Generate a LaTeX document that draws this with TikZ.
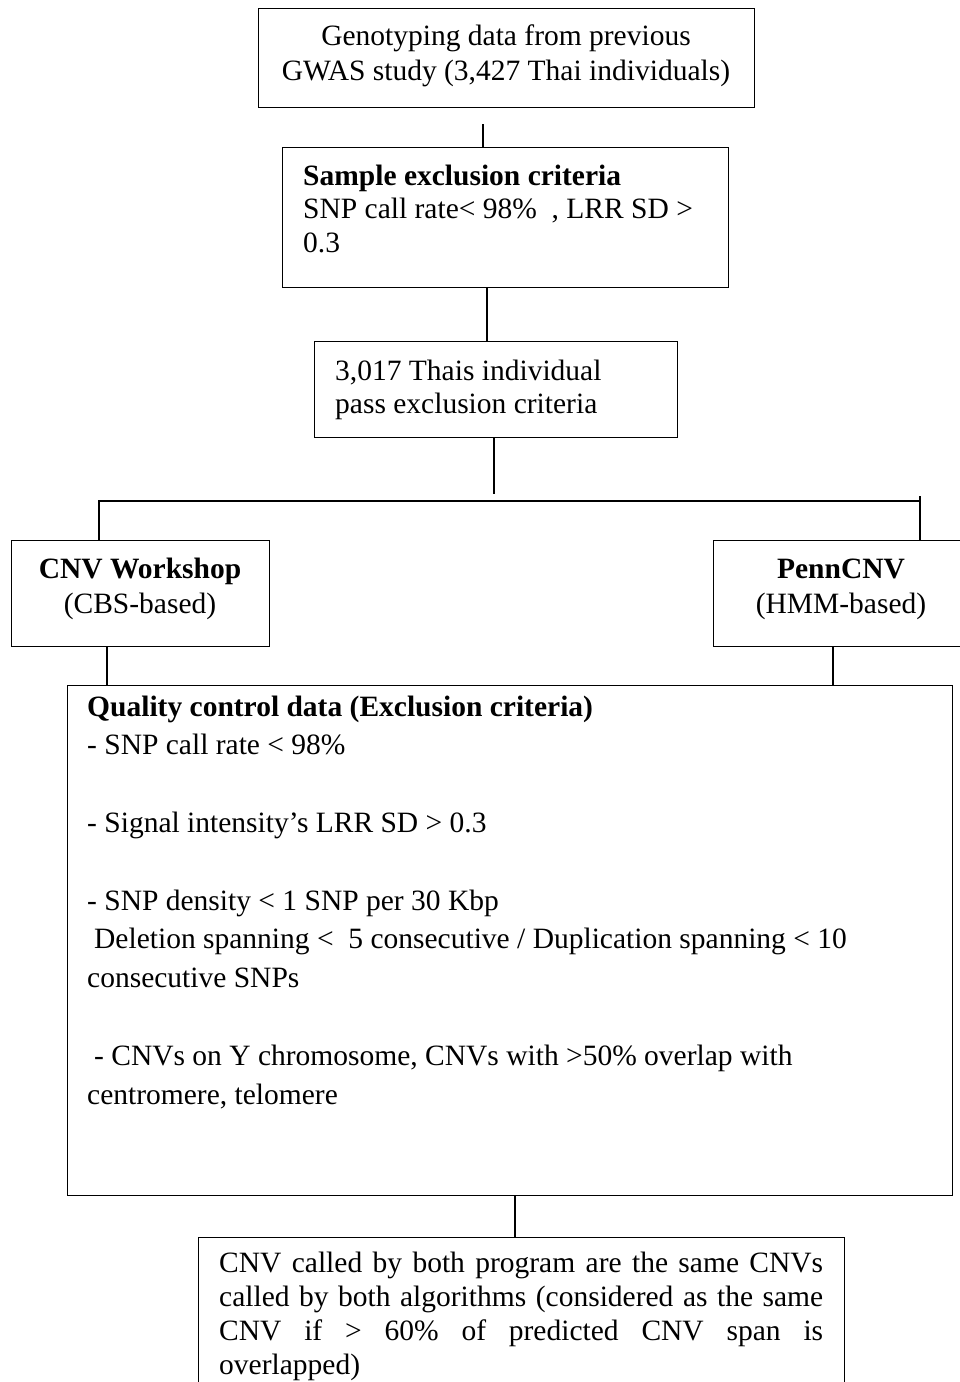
\documentclass[tikz,border=0pt]{standalone}
\usepackage{fontspec}
\setmainfont{Liberation Serif}
\usepackage{tikz}
\usetikzlibrary{positioning}
\tikzset{box/.style={rectangle,draw=black,line width=1.3pt,inner sep=0pt,anchor=north west},
         txt/.style={inner sep=0pt,anchor=base west,align=left},
         link/.style={line width=1.3pt}}

\begin{document}
\begin{tikzpicture}[x=1pt,y=-1pt]
      \useasboundingbox (0,0) rectangle (960,1382);
      \fontsize{29.5}{35}\selectfont

      % boxes
      \node[box,minimum width=496pt,minimum height=99pt] (gwas) at (258,8) {};
      \node[box,minimum width=446pt,minimum height=140pt] (sampleqc) at (282,147) {};
      \node[box,minimum width=363pt,minimum height=96pt] (passed) at (314,341) {};
      \node[box,minimum width=258pt,minimum height=106pt] (cnvws) at (11,540) {};
      \node[box,minimum width=256pt,minimum height=106pt] (penn) at (713,540) {};
      \node[box,minimum width=885pt,minimum height=510pt] (qcdata) at (67,685) {};
      \node[box,minimum width=646pt,minimum height=180pt] (both) at (198,1237) {};

      % texts (anchored at the baseline of their last line)
      \node[txt,anchor=base,align=center,font=\fontsize{29.5}{35}\selectfont] (gwastxt) at (506,80)
        {Genotyping data from previous\\GWAS study (3,427 Thai individuals)};
      \node[txt,font=\fontsize{29.5}{33.5}\selectfont] (sampletxt) at (303,252)
        {\textbf{Sample exclusion criteria}\\SNP call rate< 98\%~ , LRR SD >\\0.3};
      \node[txt,font=\fontsize{29.5}{33}\selectfont] (passedtxt) at (335,413)
        {3,017 Thais individual\\pass exclusion criteria};
      \node[txt,anchor=base,align=center,font=\fontsize{29.5}{35}\selectfont] (cnvwstxt) at (140,613)
        {\textbf{CNV Workshop}\\(CBS-based)};
      \node[txt,anchor=base,align=center,font=\fontsize{29.5}{35}\selectfont] (penntxt) at (841,613)
        {\textbf{PennCNV}\\(HMM-based)};
      \node[txt,font=\fontsize{29.5}{38.8}\selectfont] (qctxt) at (87,1104)
        {\textbf{Quality control data (Exclusion criteria)}\\
        - SNP call rate < 98\%\\[38.8pt]
        - Signal intensity’s LRR SD > 0.3\\[38.8pt]
        - SNP density < 1 SNP per 30 Kbp\\
        \hspace*{7pt}Deletion spanning <~ 5 consecutive / Duplication spanning < 10\\
        consecutive SNPs\\[38.8pt]
        \hspace*{7pt}- CNVs on Y chromosome, CNVs with >50\% overlap with\\
        centromere, telomere};
      \node[txt,font=\fontsize{29.5}{33.7}\selectfont] (bothtxt) at (219,1374)
        {\makebox[604pt][s]{CNV called by both program are the same CNVs}\\
        \makebox[604pt][s]{called by both algorithms (considered as the same}\\
        \makebox[604pt][s]{CNV if > 60\% of predicted CNV span is}\\
        overlapped)};

      % connectors
      \coordinate (c1) at (483,124);
      \coordinate (c3) at (494,494);
      \coordinate (splitl) at (99,501);
      \coordinate (splitr) at (920,501);
      \coordinate (tickr) at (920,496);
      \draw[link] (c1) -- (c1 |- sampleqc.north);
      \draw[link] (sampleqc.south -| 487,0) -- (passed.north -| 487,0);
      \draw[link] (passed.south -| c3) -- (c3);
      \draw[link] (cnvws.north -| splitl) -- (splitl) -- (splitr);
      \draw[link] (tickr) -- (tickr |- penn.north);
      \draw[link] (cnvws.south -| 107,0) -- (qcdata.north -| 107,0);
      \draw[link] (penn.south -| 833,0) -- (qcdata.north -| 833,0);
      \draw[link] (qcdata.south -| 515,0) -- (both.north -| 515,0);
  \end{tikzpicture}
\end{document}
